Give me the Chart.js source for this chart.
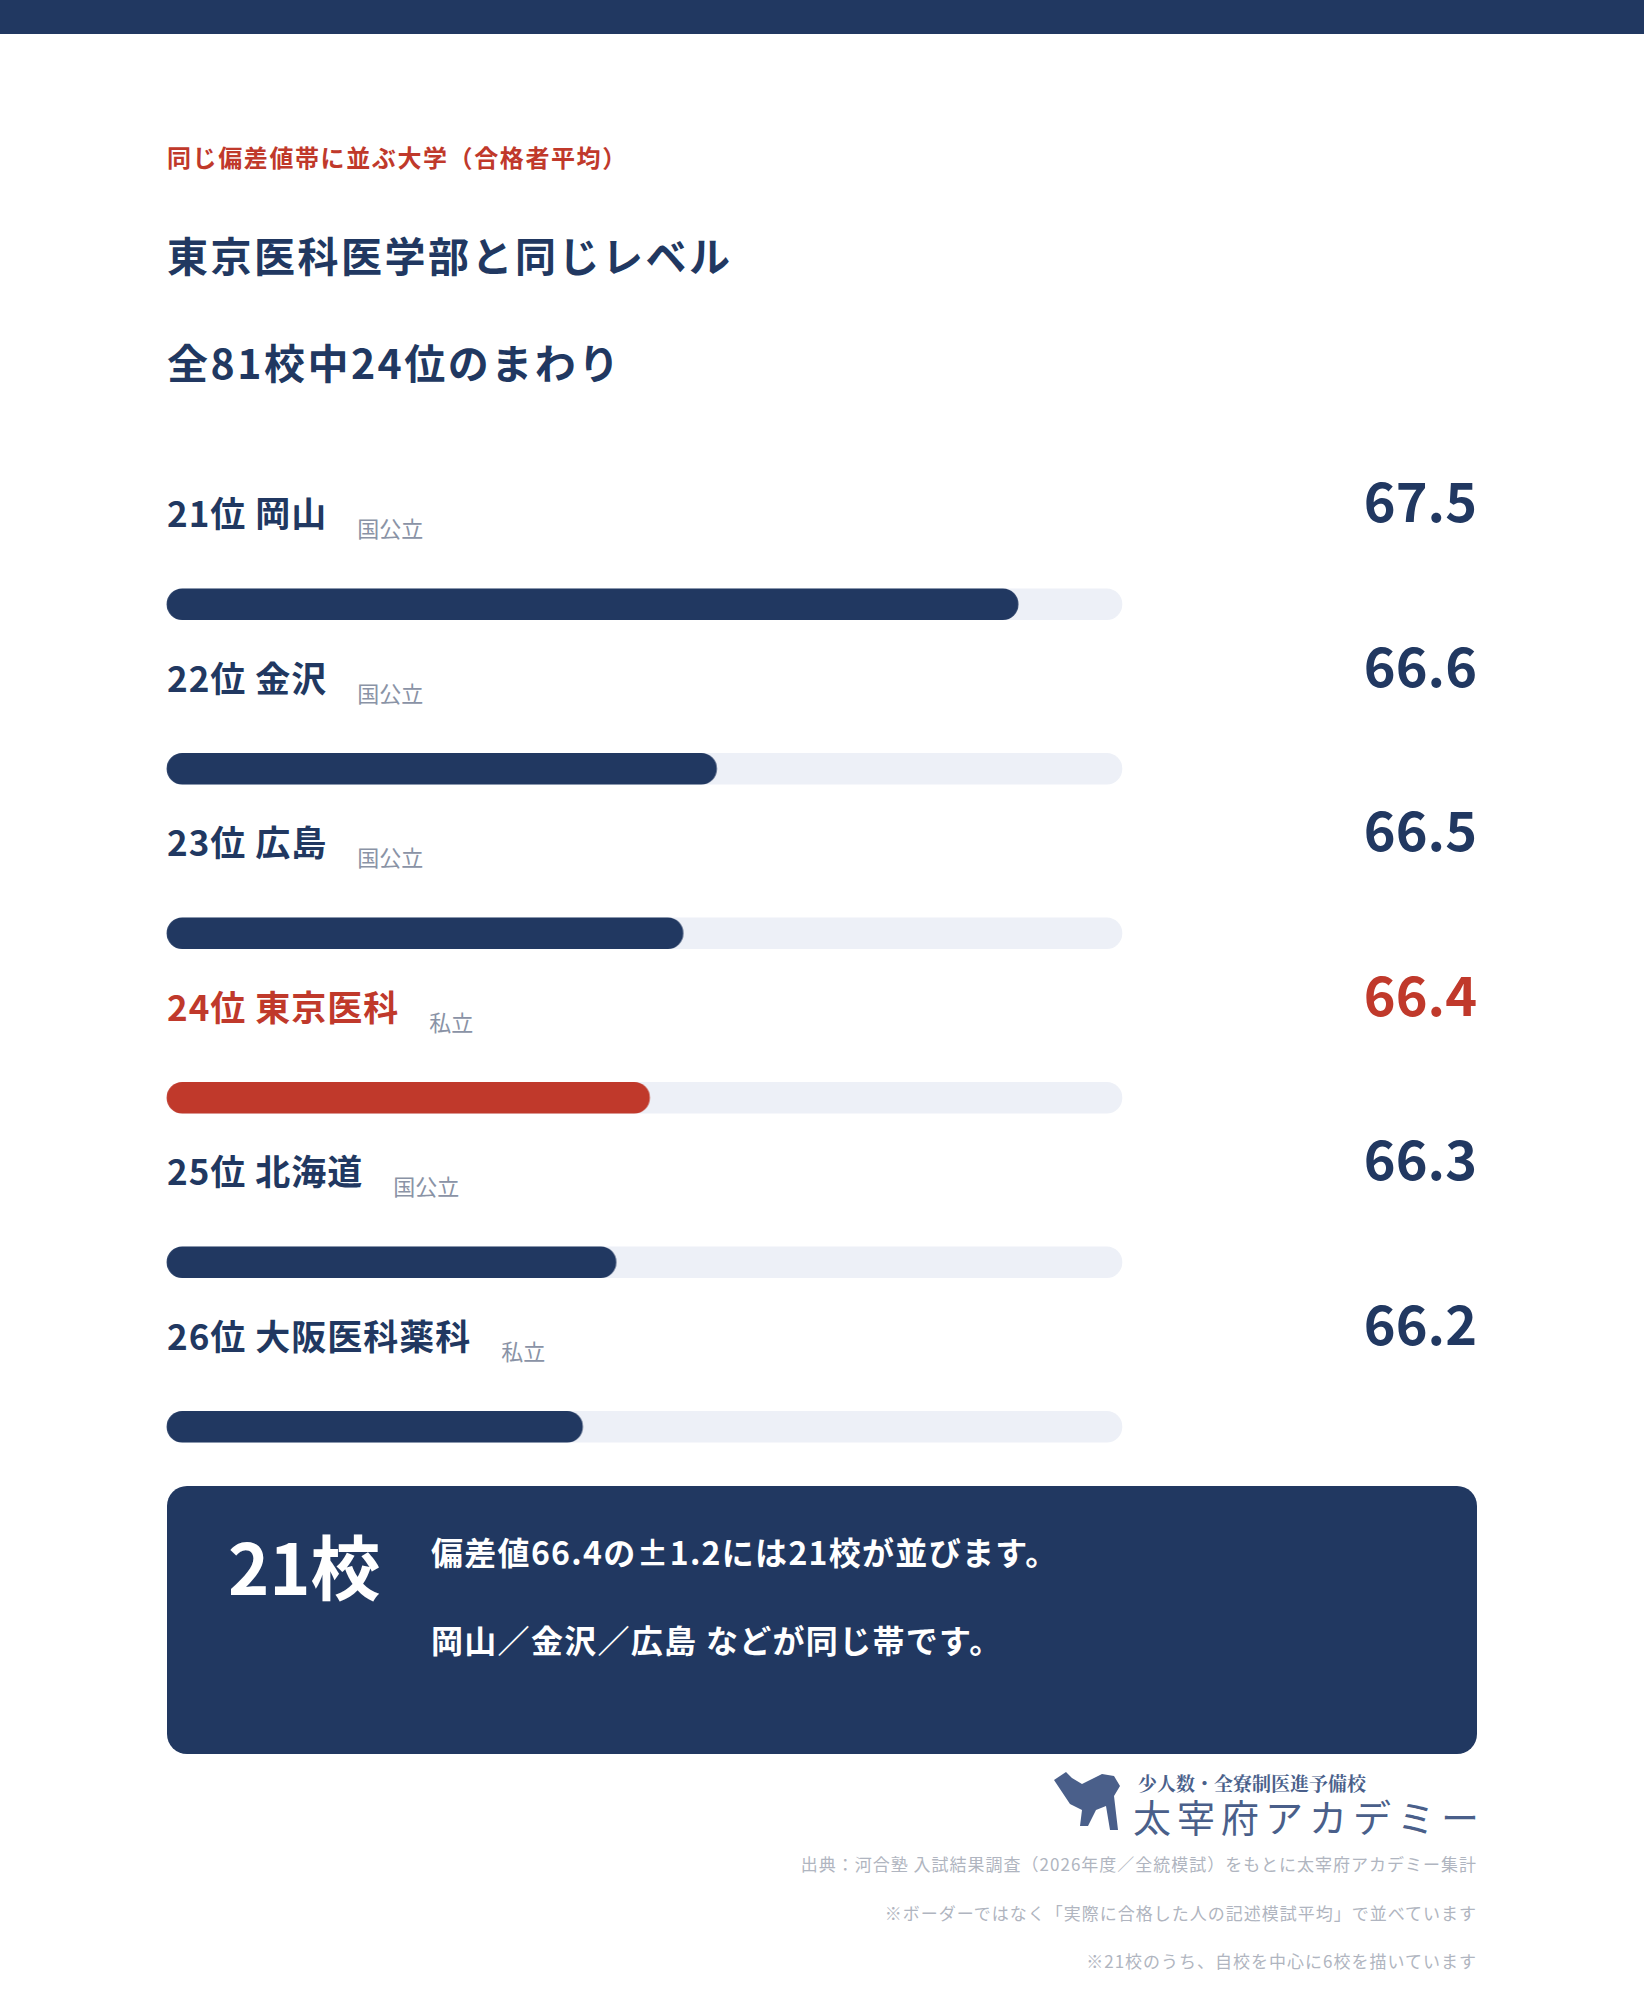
<!DOCTYPE html>
<html><head><meta charset="utf-8">
<script src="https://cdn.jsdelivr.net/npm/chart.js@4"></script>
<style>
body{margin:0;width:1644px;height:2000px;background:#fff;font-family:"Noto Sans CJK JP","Noto Sans",sans-serif;position:relative;overflow:hidden}
.a{position:absolute;white-space:nowrap;line-height:1}
#band{position:absolute;left:0;top:0;width:1644px;height:34px;background:#213861}
.lab{font-size:35px;font-weight:700;color:#213861;letter-spacing:1px}
.tag{font-size:22px;color:#8a93a6;font-weight:400;margin-left:30px;position:relative;top:10px;letter-spacing:0}
.val{font-size:54px;font-weight:700;color:#213861;right:167px}
#box{position:absolute;left:167px;top:1486px;width:1310px;height:268px;background:#213861;border-radius:20px}
.foot{font-size:17px;color:#b0b5c0;right:167px;letter-spacing:1px}
</style></head><body>
<div id="band"></div>
<div class="a" style="left:167px;top:145px;font-size:24px;font-weight:700;color:#c0392b;letter-spacing:1.6px">同じ偏差値帯に並ぶ大学（合格者平均）</div>
<div class="a" style="left:167px;top:234px;font-size:41px;font-weight:700;color:#213861;letter-spacing:2.5px">東京医科医学部と同じレベル</div>
<div class="a" style="left:167px;top:341px;font-size:41px;font-weight:700;color:#213861;letter-spacing:2.5px">全81校中24位のまわり</div>
<div id="rows"></div>
<div id="wrap" style="position:absolute;top:522px;height:987px"><canvas id="c"></canvas></div>
<div id="box"></div>
<div class="a" style="left:228px;top:1530px;font-size:70px;font-weight:700;color:#fff">21校</div>
<div class="a" style="left:431px;top:1535px;font-size:32px;font-weight:700;color:#fff;letter-spacing:1.3px">偏差値66.4の±1.2には21校が並びます。</div>
<div class="a" style="left:431px;top:1623px;font-size:32px;font-weight:700;color:#fff;letter-spacing:1.3px">岡山／金沢／広島 などが同じ帯です。</div>
<svg class="a" style="left:1052px;top:1770px" width="72" height="62" viewBox="0 0 72 62"><path d="M2 10 L14 2 L20 8 L30 14 L38 10 L50 4 L62 6 L68 16 L62 26 L66 60 L58 60 L54 36 L44 40 L36 56 L28 56 L30 40 L18 34 L10 22 Z" fill="#4a5f8a"/></svg>
<div class="a" style="left:1138px;top:1773px;font-size:19px;font-weight:700;color:#4a5f8a;font-family:'Noto Serif CJK JP','Noto Sans CJK JP',serif">少人数・全寮制医進予備校</div>
<div class="a" style="left:1133px;top:1797px;font-size:38px;color:#4a5f8a;letter-spacing:6px">太宰府アカデミー</div>
<div class="a foot" style="top:1855px">出典：河合塾 入試結果調査（2026年度／全統模試）をもとに太宰府アカデミー集計</div>
<div class="a foot" style="top:1904px">※ボーダーではなく「実際に合格した人の記述模試平均」で並べています</div>
<div class="a foot" style="top:1952px">※21校のうち、自校を中心に6校を描いています</div>
<script>
const ranks=["21位","22位","23位","24位","25位","26位"];
const schools=["岡山","金沢","広島","東京医科","北海道","大阪医科薬科"];
const types=["国公立","国公立","国公立","私立","国公立","私立"];
const values=[67.5,66.6,66.5,66.4,66.3,66.2];
const highlight=3;
const axisMin=64.96, axisMax=67.81;
const rows=document.getElementById('rows');
const pitch=164.5;
values.forEach((v,i)=>{
  const y=i*pitch;
  const col=i===highlight?'#c0392b':'#213861';
  rows.insertAdjacentHTML('beforeend',
   `<div class="a lab" style="left:167px;top:${494+y}px;color:${col}">${ranks[i]} ${schools[i]}<span class="tag">${types[i]}</span></div>`+
   `<div class="a val" style="top:${472+y}px;color:${col}">${v.toFixed(1)}</div>`);
});
const ppu=954/(axisMax-axisMin), pad=0.2;
const wrap=document.getElementById('wrap');
wrap.style.left=(167-pad*ppu)+'px';
wrap.style.width=(954+2*pad*ppu)+'px';
new Chart(document.getElementById('c'),{
  type:'bar',
  data:{labels:schools,datasets:[
    {data:values,base:axisMin,backgroundColor:values.map((v,i)=>i===highlight?'#c0392b':'#213861'),barThickness:31,borderRadius:16,borderSkipped:false,order:0},
    {data:values.map(()=>axisMax),base:axisMin,backgroundColor:'#edf0f7',barThickness:31,borderRadius:16,borderSkipped:false,order:1}
  ]},
  options:{indexAxis:'y',responsive:true,maintainAspectRatio:false,animation:false,grouped:false,
    plugins:{legend:{display:false},tooltip:{enabled:false}},
    scales:{x:{min:axisMin-pad,max:axisMax+pad,display:false},y:{display:false}}}
});
</script>
</body></html>
